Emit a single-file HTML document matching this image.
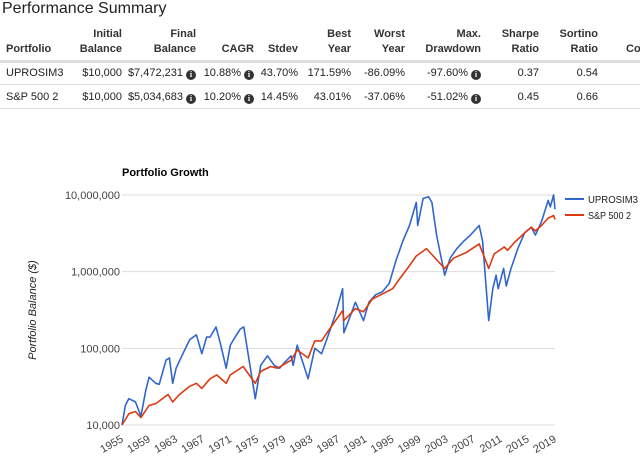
<!DOCTYPE html>
<html><head><meta charset="utf-8">
<style>
body{margin:0;width:640px;height:458px;background:#fff;font-family:"Liberation Sans",Arial,sans-serif;overflow:hidden;position:relative}
.t{position:absolute;font-size:11px;color:#222;white-space:nowrap;line-height:14px}
.r{text-align:right}
.h{font-weight:bold;color:#333;line-height:15px}
.i{display:inline-block;width:10px;height:10px;border-radius:50%;background:#333;color:#fff;font-size:8px;line-height:10px;text-align:center;font-weight:bold;vertical-align:-1px;margin-left:3px;font-family:"Liberation Serif",serif}
.ln{position:absolute;left:0;width:640px;background:#ddd}
</style></head><body>
<div class="t" style="left:2px;top:0px;font-size:16px;line-height:18px;color:#222">Performance Summary</div>
<div>
<div class="t h" style="left:6px;top:42px">Portfolio</div>
<div class="t h r" style="left:62px;width:60px;top:27px">Initial<br>Balance</div>
<div class="t h r" style="left:136px;width:60px;top:27px">Final<br>Balance</div>
<div class="t h r" style="left:204px;width:50px;top:42px">CAGR</div>
<div class="t h r" style="left:258px;width:40px;top:42px">Stdev</div>
<div class="t h r" style="left:301px;width:50px;top:27px">Best<br>Year</div>
<div class="t h r" style="left:355px;width:50px;top:27px">Worst<br>Year</div>
<div class="t h r" style="left:411px;width:70px;top:27px">Max.<br>Drawdown</div>
<div class="t h r" style="left:489px;width:50px;top:27px">Sharpe<br>Ratio</div>
<div class="t h r" style="left:548px;width:50px;top:27px">Sortino<br>Ratio</div>
<div class="t h" style="left:626px;top:42px">Co</div>
<div class="ln" style="top:60px;height:3px"></div>
<div class="t" style="left:6px;top:66px">UPROSIM3</div>
<div class="t r" style="left:62px;width:60px;top:66px">$10,000</div>
<div class="t r" style="left:116px;width:80px;top:66px">$7,472,231<span class="i">i</span></div>
<div class="t r" style="left:194px;width:60px;top:66px">10.88%<span class="i">i</span></div>
<div class="t r" style="left:248px;width:50px;top:66px">43.70%</div>
<div class="t r" style="left:301px;width:50px;top:66px">171.59%</div>
<div class="t r" style="left:355px;width:50px;top:66px">-86.09%</div>
<div class="t r" style="left:411px;width:70px;top:66px">-97.60%<span class="i">i</span></div>
<div class="t r" style="left:489px;width:50px;top:66px">0.37</div>
<div class="t r" style="left:548px;width:50px;top:66px">0.54</div>
<div class="ln" style="top:84px;height:1px"></div>
<div class="t" style="left:6px;top:90px">S&amp;P 500 2</div>
<div class="t r" style="left:62px;width:60px;top:90px">$10,000</div>
<div class="t r" style="left:116px;width:80px;top:90px">$5,034,683<span class="i">i</span></div>
<div class="t r" style="left:194px;width:60px;top:90px">10.20%<span class="i">i</span></div>
<div class="t r" style="left:248px;width:50px;top:90px">14.45%</div>
<div class="t r" style="left:301px;width:50px;top:90px">43.01%</div>
<div class="t r" style="left:355px;width:50px;top:90px">-37.06%</div>
<div class="t r" style="left:411px;width:70px;top:90px">-51.02%<span class="i">i</span></div>
<div class="t r" style="left:489px;width:50px;top:90px">0.45</div>
<div class="t r" style="left:548px;width:50px;top:90px">0.66</div>
<div class="ln" style="top:108px;height:1px"></div>
</div>
<svg id="chart" width="640" height="458" style="position:absolute;left:0;top:0" font-family="Liberation Sans, Arial, sans-serif"></svg>
<script>
const blueYears=[1955,1955.5,1956,1957,1957.8,1958.5,1959,1960,1960.5,1961.5,1962,1962.5,1963,1964,1965,1966,1966.8,1967.5,1968,1968.9,1969.5,1970.4,1971,1971.5,1972.5,1973,1973.5,1974.7,1975.5,1976.5,1977.5,1978.3,1979,1980,1980.3,1980.9,1982.5,1983.5,1984.5,1985.5,1986.5,1987.6,1987.8,1988.5,1989.5,1990.7,1991.5,1992.5,1993.5,1994.5,1995.5,1996.5,1997.5,1998.5,1998.7,1999.5,2000.3,2000.8,2001.5,2002,2002.7,2003.5,2004.5,2005.5,2006.5,2007.8,2008.3,2009.2,2009.8,2010.3,2010.6,2011.4,2011.8,2012.5,2013.5,2014.5,2015.5,2016.1,2017,2018,2018.3,2018.8,2019];
const blueValues=[10e3,18e3,22e3,20e3,13e3,28e3,42e3,35e3,34e3,70e3,75e3,35e3,55e3,85e3,130e3,150e3,85e3,140e3,140e3,190e3,120e3,55e3,110e3,130e3,180e3,190e3,100e3,22e3,60e3,80e3,60e3,55e3,65e3,80e3,60e3,110e3,40e3,100e3,85e3,150e3,270e3,600e3,160e3,230e3,400e3,230e3,400e3,500e3,550e3,700e3,1.4e6,2.5e6,4e6,8e6,4e6,9e6,9.5e6,8e6,3e6,1.8e6,0.9e6,1.5e6,2e6,2.5e6,3e6,4e6,2.5e6,0.23e6,0.6e6,0.9e6,0.6e6,1.1e6,0.65e6,1.1e6,2e6,3.2e6,3.8e6,3e6,4.5e6,8.5e6,7e6,10e6,6.5e6];
const redYears=[1955,1956,1957,1957.8,1959,1960,1961.8,1962.5,1963.5,1965,1966,1966.8,1968,1969,1970.4,1971,1972.9,1974.7,1975.5,1977,1978,1980,1980.9,1982.5,1983.5,1984.5,1985.5,1987.6,1987.8,1989.5,1990.7,1992,1994,1995,1996,1997.5,1998.5,2000,2001,2002.7,2004,2006,2007.8,2009.2,2010,2011.5,2012,2013,2014.5,2015.5,2016.1,2017,2018,2018.8,2019];
const redValues=[10e3,14e3,15e3,12.5e3,18e3,19e3,25e3,20e3,25e3,32e3,35e3,30e3,40e3,45e3,35e3,45e3,58e3,35e3,50e3,58e3,55e3,70e3,95e3,75e3,125e3,125e3,170e3,310e3,230e3,330e3,300e3,440e3,540e3,600e3,800e3,1.2e6,1.6e6,2e6,1.6e6,1.1e6,1.5e6,1.8e6,2.3e6,1.1e6,1.7e6,2.1e6,1.9e6,2.4e6,3.2e6,3.8e6,3.4e6,4e6,5e6,5.4e6,4.8e6];
const yTicks=[10000,100000,1000000,10000000];
const yTickLabels=["10,000","100,000","1,000,000","10,000,000"];
const xTicks=[1955,1959,1963,1967,1971,1975,1979,1983,1987,1991,1995,1999,2003,2007,2011,2015,2019];
const seriesNames=["UPROSIM3","S&P 500 2"];
const seriesColors=["#3366cc","#dc3912"];

const svg=document.getElementById('chart');
const NS='http://www.w3.org/2000/svg';
const X0=122,X1=555,Y0=425,Y1=195;
const x=v=>X0+(v-1955)/(2019-1955)*(X1-X0);
const y=v=>Y0-(Math.log10(v)-4)/3*(Y0-Y1);
function mk(t,a){const e=document.createElementNS(NS,t);for(const k in a)e.setAttribute(k,a[k]);svg.appendChild(e);return e;}
let e=mk('text',{x:122,y:176,'font-size':11,'font-weight':'bold',fill:'#000'});e.textContent='Portfolio Growth';


yTicks.forEach((v,i)=>{
 const g=mk('line',{x1:X0,x2:X1,y1:y(v),y2:y(v),stroke:'#ddd','stroke-width':1});
 
 
 const t=mk('text',{x:120,y:y(v)+4,'text-anchor':'end','font-size':11,fill:'#444'});t.textContent=yTickLabels[i];
 
 
});
xTicks.forEach(v=>{
 const t=mk('text',{x:0,y:0,'text-anchor':'end','font-size':11,fill:'#444',transform:`translate(${x(v)+2},${441}) rotate(-30)`});t.textContent=v;
 
 
});
e=mk('text',{x:0,y:0,'text-anchor':'middle','font-size':11,'font-style':'italic',fill:'#222',transform:'translate(36,310) rotate(-90)'});e.textContent='Portfolio Balance ($)';


[[blueYears,blueValues],[redYears,redValues]].forEach((s,i)=>{
 const d=s[0].map((yr,j)=>(j?'L':'M')+x(yr).toFixed(1)+','+y(s[1][j]).toFixed(1)).join('');
 const p=mk('path',{d:d,fill:'none',stroke:seriesColors[i],'stroke-width':1.6,'stroke-linejoin':'round'});
 
 
 const ly=199+i*16;
 const l=mk('line',{x1:565,x2:584,y1:ly,y2:ly,stroke:seriesColors[i],'stroke-width':2});
 
 
 const t=mk('text',{x:588,y:ly+4,'font-size':10.5,fill:'#222','textLength':i?43:50,'lengthAdjust':'spacingAndGlyphs'});t.textContent=seriesNames[i];
 
 
});
</script>
</body></html>
